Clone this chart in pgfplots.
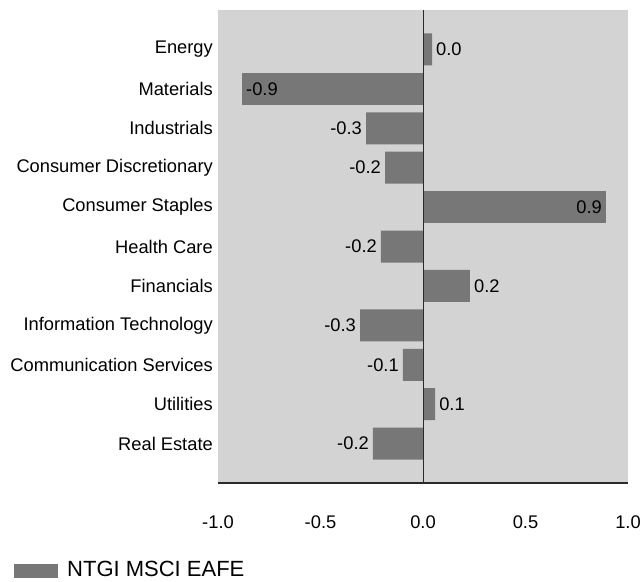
\documentclass[border=0pt]{standalone}
\usepackage{fontspec}
\setmainfont{Liberation Sans}
\usepackage{pgfplots}
\pgfplotsset{compat=1.18}
\definecolor{bgc}{HTML}{D3D3D3}
\definecolor{barc}{HTML}{777777}
\definecolor{linec}{HTML}{2A2A2A}
\newcommand{\lblfont}{\fontsize{18.3}{21}\selectfont}
\begin{document}
\begin{tikzpicture}
\begin{axis}[
  scale only axis,
  width=410pt, height=473pt,
  xmin=-1, xmax=1,
  ymin=-1, ymax=11,
  y dir=reverse,
  axis background/.style={fill=bgc},
  axis line style={draw=none},
  major tick length=0pt,
  xtick={-1,-0.5,0,0.5,1},
  /pgf/number format/assume math mode=true,
  xticklabel style={/pgf/number format/fixed, /pgf/number format/fixed zerofill, /pgf/number format/precision=1, font=\lblfont, anchor=north, inner sep=0pt, yshift=-33pt},
  ytick={0,...,10},
  yticklabels={Energy, Materials, Industrials, Consumer Discretionary, Consumer Staples, Health Care, Financials, Information Technology, Communication Services, Utilities, Real Estate},
  yticklabel style={font=\lblfont, anchor=east, inner sep=0pt, xshift=-5pt},
  xbar, bar width=32pt, bar shift=0pt,
  point meta=explicit symbolic,
  nodes near coords,
  every node near coord/.append style={font=\lblfont, inner sep=4pt, text=black},
  legend style={draw=none, fill=none, inner sep=0pt, at={(-0.4976,-0.183)}, anchor=west, font=\fontsize{22}{25}\selectfont,
    nodes={inner ysep=1pt}},
  legend cell align=left,
]
% positive, label outside
\addplot[fill=barc, draw=none, every node near coord/.append style={anchor=west},
  legend image code/.code={\fill[barc] (0pt,-8pt) rectangle (44pt,6pt); \path (51pt,0pt);}]
  coordinates {(0.044,0) [0.0] (0.229,6) [0.2] (0.059,9) [0.1]};
% positive, label inside
\addplot[fill=barc, draw=none, forget plot, every node near coord/.append style={anchor=east}]
  coordinates {(0.893,4) [0.9]};
% negative, label outside
\addplot[fill=barc, draw=none, forget plot, every node near coord/.append style={anchor=east}]
  coordinates {(-0.278,2) [-0.3] (-0.185,3) [-0.2] (-0.205,5) [-0.2] (-0.307,7) [-0.3] (-0.098,8) [-0.1] (-0.244,10) [-0.2]};
% negative, label inside
\addplot[fill=barc, draw=none, forget plot, every node near coord/.append style={anchor=west}]
  coordinates {(-0.883,1) [-0.9]};
\legend{NTGI MSCI EAFE}
\draw[linec, line width=0.8pt] (axis cs:0,-1) -- (axis cs:0,11);
\draw[linec, line width=1.5pt] (rel axis cs:0,0) -- (rel axis cs:1,0);
\end{axis}
\pgfresetboundingbox
\path[use as bounding box] (-218pt,-98pt) rectangle (426pt,483pt);
\end{tikzpicture}
\end{document}
